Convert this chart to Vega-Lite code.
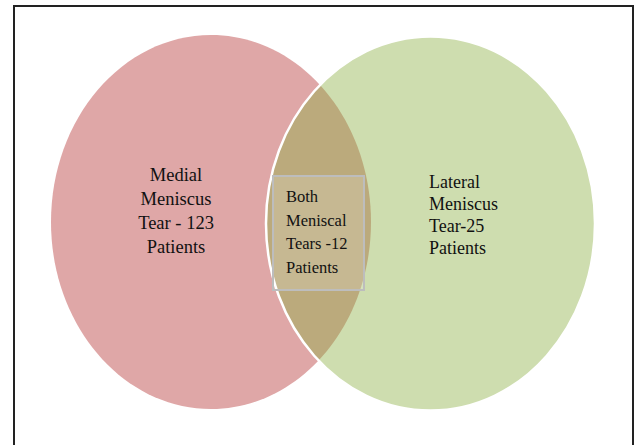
{
  "$schema": "https://vega.github.io/schema/vega-lite/v6.json",
  "width": 619,
  "height": 450,
  "padding": {"left": 14, "top": 6, "right": 2, "bottom": 0},
  "autosize": {"type": "none"},
  "background": "#ffffff",
  "config": {"view": {"stroke": "#222222", "strokeWidth": 2}},
  "layer": [
    {
      "data": {"values": [{"set": "Medial", "cx": 211, "cy": 222}]},
      "mark": {
        "type": "point",
        "filled": true,
        "opacity": 1,
        "fill": "#dfa7a7",
        "size": 139876,
        "shape": "M 0 -1 C 0.4726 -1 0.8556 -0.5523 0.8556 0 C 0.8556 0.5523 0.4726 1 0 1 C -0.4726 1 -0.8556 0.5523 -0.8556 0 C -0.8556 -0.5523 -0.4726 -1 0 -1 Z"
      },
      "encoding": {
        "x": {"field": "cx", "type": "quantitative", "scale": {"domain": [14, 633], "nice": false, "zero": false}, "axis": null},
        "y": {"field": "cy", "type": "quantitative", "scale": {"domain": [6, 456], "nice": false, "zero": false, "reverse": true}, "axis": null}
      }
    },
    {
      "data": {"values": [{"set": "Lateral", "cx": 430.5, "cy": 223.5}]},
      "mark": {
        "type": "point",
        "filled": true,
        "opacity": 1,
        "fill": "#8aae40",
        "fillOpacity": 0.42,
        "stroke": "#ffffff",
        "strokeWidth": 2.5,
        "strokeOpacity": 1,
        "size": 139876,
        "shape": "M 0 -1 C 0.4858 -1 0.8797 -0.5523 0.8797 0 C 0.8797 0.5523 0.4858 1 0 1 C -0.4858 1 -0.8797 0.5523 -0.8797 0 C -0.8797 -0.5523 -0.4858 -1 0 -1 Z"
      },
      "encoding": {
        "x": {"field": "cx", "type": "quantitative"},
        "y": {"field": "cy", "type": "quantitative"}
      }
    },
    {
      "data": {"values": [{"set": "Both", "x1": 273, "x2": 364, "y1": 176, "y2": 290}]},
      "mark": {"type": "rect", "fill": "#ffffff", "fillOpacity": 0.17, "stroke": "#bdbdbd", "strokeWidth": 2},
      "encoding": {
        "x": {"field": "x1", "type": "quantitative"},
        "x2": {"field": "x2"},
        "y": {"field": "y1", "type": "quantitative"},
        "y2": {"field": "y2"}
      }
    },
    {
      "data": {"values": [{"label": "Medial\nMeniscus\nTear - 123\nPatients", "x": 176, "y": 181}]},
      "mark": {"type": "text", "font": "Liberation Serif", "fontSize": 18.5, "align": "center", "baseline": "alphabetic", "lineBreak": "\n", "lineHeight": 24, "color": "#111111"},
      "encoding": {
        "x": {"field": "x", "type": "quantitative"},
        "y": {"field": "y", "type": "quantitative"},
        "text": {"field": "label"}
      }
    },
    {
      "data": {"values": [{"label": "Lateral\nMeniscus\nTear-25\nPatients", "x": 429, "y": 188}]},
      "mark": {"type": "text", "font": "Liberation Serif", "fontSize": 18, "align": "left", "baseline": "alphabetic", "lineBreak": "\n", "lineHeight": 22, "color": "#111111"},
      "encoding": {
        "x": {"field": "x", "type": "quantitative"},
        "y": {"field": "y", "type": "quantitative"},
        "text": {"field": "label"}
      }
    },
    {
      "data": {"values": [{"label": "Both\nMeniscal\nTears -12\nPatients", "x": 286, "y": 202}]},
      "mark": {"type": "text", "font": "Liberation Serif", "fontSize": 16.5, "align": "left", "baseline": "alphabetic", "lineBreak": "\n", "lineHeight": 23.7, "color": "#111111"},
      "encoding": {
        "x": {"field": "x", "type": "quantitative"},
        "y": {"field": "y", "type": "quantitative"},
        "text": {"field": "label"}
      }
    }
  ]
}
